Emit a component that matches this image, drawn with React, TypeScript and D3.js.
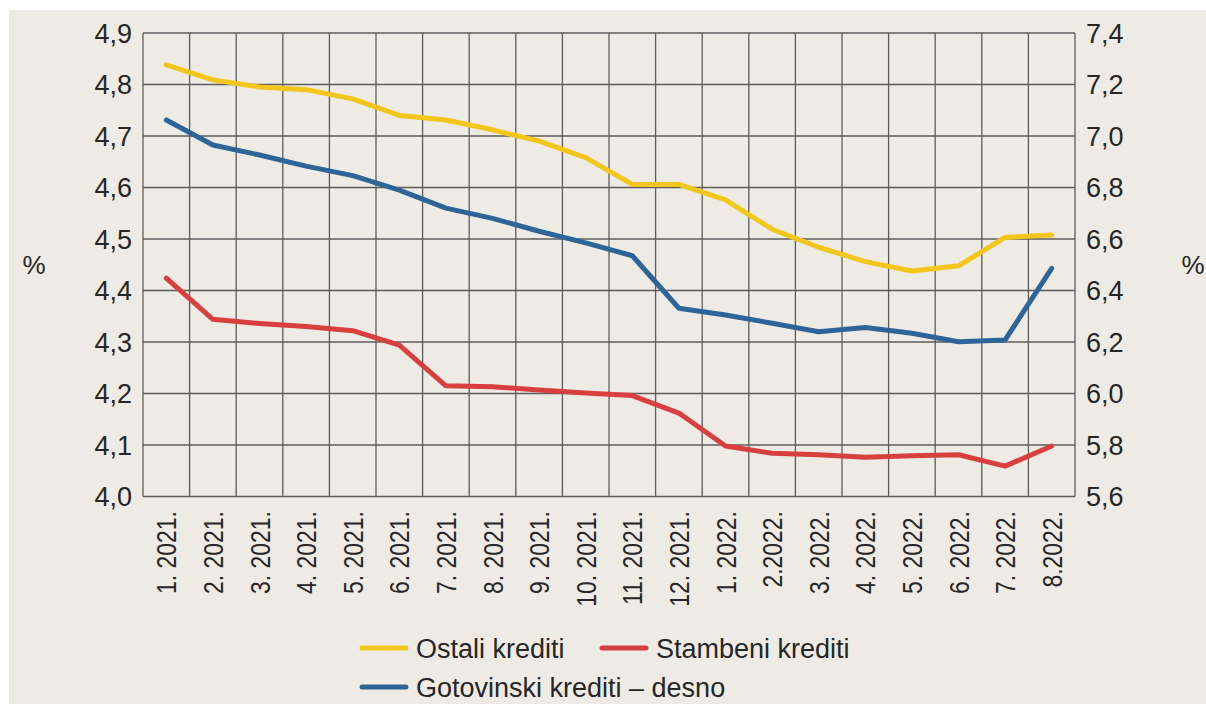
import React, { useEffect, useRef } from 'react';
import * as d3 from 'd3';

const months = [
    "1. 2021.", "2. 2021.", "3. 2021.", "4. 2021.", "5. 2021.", "6. 2021.",
    "7. 2021.", "8. 2021.", "9. 2021.", "10. 2021.", "11. 2021.", "12. 2021.",
    "1. 2022.", "2.2022.", "3. 2022.", "4. 2022.", "5. 2022.", "6. 2022.", "7. 2022.", "8.2022."
];

// left axis
const ostali = [4.838, 4.809, 4.795, 4.790, 4.772, 4.740, 4.731, 4.712, 4.690, 4.658, 4.606, 4.606, 4.576, 4.519, 4.484, 4.456, 4.438, 4.448, 4.503, 4.508];
const stambeni = [4.424, 4.344, 4.336, 4.330, 4.322, 4.294, 4.215, 4.213, 4.207, 4.201, 4.196, 4.162, 4.098, 4.084, 4.081, 4.076, 4.079, 4.081, 4.059, 4.098];
// right axis
const gotovinski = [7.062, 6.965, 6.926, 6.883, 6.846, 6.790, 6.720, 6.680, 6.630, 6.585, 6.535, 6.331, 6.305, 6.273, 6.240, 6.256, 6.234, 6.201, 6.208, 6.486];

const leftTicks = [4.0, 4.1, 4.2, 4.3, 4.4, 4.5, 4.6, 4.7, 4.8, 4.9];
const rightTicks = [5.6, 5.8, 6.0, 6.2, 6.4, 6.6, 6.8, 7.0, 7.2, 7.4];

const legendItems = [
    { label: "Ostali krediti", color: "#F3C61B", col: 0, row: 0 },
    { label: "Stambeni krediti", color: "#D8403F", col: 1, row: 0 },
    { label: "Gotovinski krediti – desno", color: "#2E6598", col: 0, row: 1 }
];

const FONT = "'Liberation Sans', Arial, sans-serif";
const TEXT_COLOR = "#262626";

const App = () => {
    const svgRef = useRef(null);

    useEffect(() => {
        document.body.style.margin = "0";
        const width = 1206;
        const height = 704;
        const plot = { left: 143, right: 1075, top: 33, bottom: 496.5 };

        d3.select(svgRef.current).selectAll("*").remove();
        const svg = d3.select(svgRef.current)
            .attr("width", width)
            .attr("height", height)
            .style("display", "block");

        svg.append("rect").attr("width", width).attr("height", height).attr("fill", "#fff");
        svg.append("rect")
            .attr("x", 9).attr("y", 10)
            .attr("width", width - 9).attr("height", height - 10)
            .attr("fill", "#EEEBE5");

        const x = d3.scaleBand().domain(months).range([plot.left, plot.right]).padding(0);
        const yL = d3.scaleLinear().domain([4.0, 4.9]).range([plot.bottom, plot.top]);
        const yR = d3.scaleLinear().domain([5.6, 7.4]).range([plot.bottom, plot.top]);
        const cx = d => x(d) + x.bandwidth() / 2;

        // grid
        const grid = svg.append("g").attr("stroke", "#444").attr("stroke-width", 1.3).attr("opacity", 0.85);
        grid.selectAll(".h").data(leftTicks).enter().append("line")
            .attr("x1", plot.left).attr("x2", plot.right)
            .attr("y1", d => yL(d)).attr("y2", d => yL(d));
        grid.selectAll(".v").data([...months.map(m => x(m)), plot.right]).enter().append("line")
            .attr("x1", d => d).attr("x2", d => d)
            .attr("y1", plot.top).attr("y2", plot.bottom);

        // left tick labels
        svg.append("g").selectAll("text").data(leftTicks).enter().append("text")
            .attr("x", 132).attr("y", d => yL(d))
            .attr("dy", "0.36em")
            .attr("text-anchor", "end")
            .style("font-family", FONT).style("font-size", "27px")
            .attr("fill", TEXT_COLOR)
            .text(d => d.toFixed(1).replace(".", ","));

        // right tick labels
        svg.append("g").selectAll("text").data(rightTicks).enter().append("text")
            .attr("x", 1086).attr("y", d => yR(d))
            .attr("dy", "0.36em")
            .attr("text-anchor", "start")
            .style("font-family", FONT).style("font-size", "27px")
            .attr("fill", TEXT_COLOR)
            .text(d => d.toFixed(1).replace(".", ","));

        // % labels
        svg.append("text").attr("x", 34).attr("y", 265).attr("dy", "0.36em")
            .attr("text-anchor", "middle")
            .style("font-family", FONT).style("font-size", "26px").attr("fill", TEXT_COLOR).text("%");
        svg.append("text").attr("x", 1193).attr("y", 265).attr("dy", "0.36em")
            .attr("text-anchor", "middle")
            .style("font-family", FONT).style("font-size", "26px").attr("fill", TEXT_COLOR).text("%");

        // x labels, rotated and squeezed along the text direction
        svg.append("g").selectAll("text").data(months).enter().append("text")
            .attr("transform", d => `translate(${cx(d)},511) rotate(-90) scale(0.82,1)`)
            .attr("dy", "0.36em")
            .attr("text-anchor", "end")
            .style("font-family", FONT).style("font-size", "28px")
            .attr("fill", TEXT_COLOR)
            .text(d => d);

        // lines
        const series = [
            { values: ostali, y: yL, color: "#F3C61B" },
            { values: stambeni, y: yL, color: "#D8403F" },
            { values: gotovinski, y: yR, color: "#2E6598" }
        ];
        series.forEach(s => {
            const line = d3.line()
                .x((d, i) => cx(months[i]))
                .y(d => s.y(d));
            svg.append("path")
                .attr("d", line(s.values))
                .attr("fill", "none")
                .attr("stroke", s.color)
                .attr("stroke-width", 5)
                .attr("stroke-linejoin", "round")
                .attr("stroke-linecap", "round");
        });

        // legend
        const legend = svg.append("g").selectAll("g").data(legendItems).enter().append("g")
            .attr("transform", d => `translate(${d.col === 0 ? 362 : 602},${d.row === 0 ? 648 : 687})`);
        legend.append("line")
            .attr("x1", 0).attr("x2", 44)
            .attr("stroke", d => d.color).attr("stroke-width", 5).attr("stroke-linecap", "round");
        legend.append("text")
            .attr("x", 54).attr("dy", "0.36em")
            .style("font-family", FONT).style("font-size", "27px")
            .attr("fill", TEXT_COLOR)
            .text(d => d.label);
    }, []);

    return (
        <div>
            <svg ref={svgRef}></svg>
        </div>
    );
};

export default App;
